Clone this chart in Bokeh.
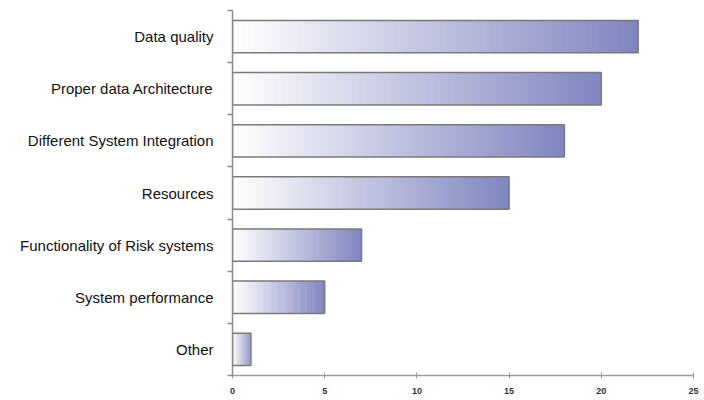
from bokeh.plotting import figure
from bokeh.models import ColumnDataSource, FixedTicker, Range1d
from bokeh.embed import file_html
from bokeh.resources import INLINE

categories = ["Data quality", "Proper data Architecture", "Different System Integration",
              "Resources", "Functionality of Risk systems", "System performance", "Other"]
values = [22, 20, 18, 15, 7, 5, 1]
x_ticks = [0, 5, 10, 15, 20, 25]

n = len(categories)
y_centers = [n - 0.5 - i for i in range(n)]

start_rgb = (255, 255, 255)
end_rgb = (0x80, 0x85, 0xc0)
N = 80

seg = dict(left=[], right=[], y=[], color=[])
for v, yc in zip(values, y_centers):
    for k in range(N):
        t = (k + 0.5) / N
        r, g, b = [int(round(s + (e - s) * t)) for s, e in zip(start_rgb, end_rgb)]
        seg["left"].append(v * k / N)
        seg["right"].append(min(v, v * (k + 1.5) / N))
        seg["y"].append(yc)
        seg["color"].append("#%02x%02x%02x" % (r, g, b))

p = figure(width=700, height=398, output_backend="svg", toolbar_location=None,
           x_range=Range1d(0, 25), y_range=Range1d(0, n),
           min_border_left=232, min_border_right=7, min_border_top=10, min_border_bottom=23)

p.hbar(y="y", left="left", right="right", height=0.62, fill_color="color",
       line_color=None, source=ColumnDataSource(seg))
p.hbar(y=y_centers, left=0, right=values, height=0.62, fill_color=None,
       line_color="#7a7a7a", line_width=1.5)

p.xgrid.visible = False
p.ygrid.visible = False
p.outline_line_color = None
p.background_fill_color = "white"

xa = p.xaxis[0]
xa.ticker = FixedTicker(ticks=x_ticks)
xa.axis_line_color = "#9a9a9a"
xa.axis_line_width = 1.5
xa.major_tick_line_color = "#9a9a9a"
xa.major_tick_in = 3
xa.major_tick_out = 3
xa.minor_tick_line_color = None
xa.major_label_text_font = "Liberation Sans"
xa.major_label_text_font_size = "9px"
xa.major_label_text_font_style = "bold"
xa.major_label_text_color = "#333333"
xa.major_label_standoff = 9

ya = p.yaxis[0]
ya.ticker = FixedTicker(ticks=y_centers, minor_ticks=list(range(n + 1)))
ya.major_label_overrides = {yc: c for yc, c in zip(y_centers, categories)}
ya.axis_line_color = "#8a8a8a"
ya.axis_line_width = 1.5
ya.major_tick_line_color = None
ya.major_tick_in = 0
ya.major_tick_out = 0
ya.minor_tick_line_color = "#8a8a8a"
ya.minor_tick_line_width = 1.5
ya.minor_tick_in = 0
ya.minor_tick_out = 5
ya.major_label_text_font = "Liberation Sans"
ya.major_label_text_font_size = "15px"
ya.major_label_text_color = "#111111"
ya.major_label_standoff = 14

open("out.html", "w").write(file_html(p, INLINE))
